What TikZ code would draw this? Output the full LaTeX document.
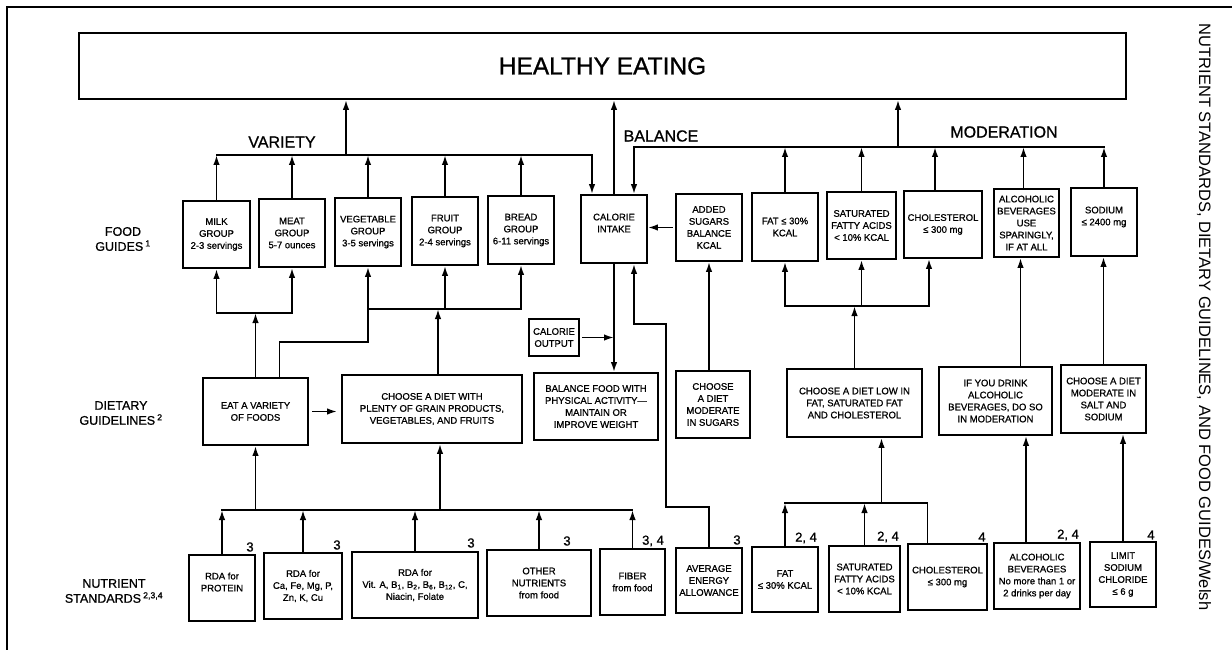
\documentclass[tikz,border=0pt]{standalone}
\usepackage{fontspec}
\setmainfont{Liberation Sans}
\newfontfamily\heavyfont{Liberation Sans}[FakeBold=0.9,Ligatures=TeX]
\usetikzlibrary{arrows.meta}

\begin{document}
\begin{tikzpicture}[x=1pt,y=-1pt,
  guidebox/.style={draw,line width=1.8pt,align=center,inner sep=1pt,
                   font=\fontsize{9.5}{12}\heavyfont},
  titlebox/.style={draw,line width=1.8pt,font=\fontsize{24.5}{29}\heavyfont},
  rowlabel/.style={align=center,font=\fontsize{12.5}{15}\heavyfont},
  theme/.style={font=\fontsize{16}{19}\heavyfont},
  fnum/.style={font=\fontsize{13}{15}\heavyfont,inner sep=0pt},
  arr/.style={-{Latex[length=10pt,width=6.5pt]},line width=1.8pt,line cap=rect},
  link/.style={line width=1.8pt,line cap=rect},
]
\useasboundingbox (0,0) rectangle (1232,650);

% Frame
\draw[line width=2.6pt] (7,650) -- (7,7) -- (1232,7);

% Title
\node[titlebox,minimum width=1047,minimum height=66] (health) at (602.5,66) {HEALTHY EATING};

% Themes
\node[theme] (variety) at (282,142) {VARIETY};
\node[theme] (balance) at (661,136) {BALANCE};
\node[theme] (moderation) at (1004,132) {MODERATION};

% Row labels
\node[rowlabel] (lblfood) at (123,239) {FOOD\\GUIDES\,\textsuperscript{1}};
\node[rowlabel] (lbldiet) at (121,413) {DIETARY\\GUIDELINES\,\textsuperscript{2}};
\node[rowlabel] (lblnutr) at (114,591) {NUTRIENT\\STANDARDS\,\textsuperscript{2,3,4}};

% Food guides
\node[guidebox,minimum width=67,minimum height=67] (milk) at (216.5,234.5) {MILK\\GROUP\\2-3 servings};
\node[guidebox,minimum width=66,minimum height=68] (meat) at (292,233) {MEAT\\GROUP\\5-7 ounces};
\node[guidebox,minimum width=66,minimum height=68] (veg) at (368,232) {VEGETABLE\\GROUP\\3-5 servings};
\node[guidebox,minimum width=66,minimum height=68] (fruit) at (445,231) {FRUIT\\GROUP\\2-4 servings};
\node[guidebox,minimum width=66,minimum height=68] (bread) at (521,230) {BREAD\\GROUP\\6-11 servings};
\node[guidebox,minimum width=66,minimum height=68] (cal) at (614,229) {CALORIE\\INTAKE\\\mbox{}};
\node[guidebox,minimum width=66,minimum height=67] (sugar) at (709,227.5) {ADDED\\SUGARS\\BALANCE\\KCAL};
\node[guidebox,minimum width=66,minimum height=68] (fatg) at (785,227) {FAT ≤ 30\%\\KCAL};
\node[guidebox,minimum width=69,minimum height=67] (satg) at (861.5,225.5) {SATURATED\\FATTY ACIDS\\< 10\% KCAL};
\node[guidebox,minimum width=78,minimum height=67] (cholg) at (943,224.5) {CHOLESTEROL\\≤ 300 mg};
\node[guidebox,minimum width=65,minimum height=68] (alcg) at (1026.5,223) {ALCOHOLIC\\BEVERAGES\\USE\\SPARINGLY,\\IF AT ALL};
\node[guidebox,minimum width=66,minimum height=68] (sodg) at (1104,222) {SODIUM\\≤ 2400 mg\\\mbox{}};

% Dietary guidelines
\node[guidebox,minimum width=50,minimum height=37] (calout) at (554,337.5) {CALORIE\\OUTPUT};
\node[guidebox,minimum width=105,minimum height=67] (eat) at (255.5,411.5) {EAT A VARIETY\\OF FOODS};
\node[guidebox,minimum width=180,minimum height=68] (plenty) at (432,409) {CHOOSE A DIET WITH\\PLENTY OF GRAIN PRODUCTS,\\VEGETABLES, AND FRUITS};
\node[guidebox,minimum width=124,minimum height=67] (balfood) at (596,406.5) {BALANCE FOOD WITH\\PHYSICAL ACTIVITY—\\MAINTAIN OR\\IMPROVE WEIGHT};
\node[guidebox,minimum width=74,minimum height=67] (dsugar) at (713,404.5) {CHOOSE\\A DIET\\MODERATE\\IN SUGARS};
\node[guidebox,minimum width=135,minimum height=68] (dfat) at (854.5,403) {CHOOSE A DIET LOW IN\\FAT, SATURATED FAT\\AND CHOLESTEROL};
\node[guidebox,minimum width=113,minimum height=68] (dalc) at (995.5,401) {IF YOU DRINK\\ALCOHOLIC\\BEVERAGES, DO SO\\IN MODERATION};
\node[guidebox,minimum width=85,minimum height=68] (dsalt) at (1103.5,399) {CHOOSE A DIET\\MODERATE IN\\SALT AND\\SODIUM};

% Nutrient standards
\node[guidebox,minimum width=66,minimum height=66] (rprot) at (222,588) {RDA for\\PROTEIN\\\mbox{}};
\node[guidebox,minimum width=78,minimum height=66] (rmin) at (303,586) {RDA for\\Ca, Fe, Mg, P,\\Zn, K, Cu};
\node[guidebox,minimum width=126,minimum height=66] (rvit) at (415,585) {RDA for\\Vit. A, B\textsubscript{1}, B\textsubscript{2}, B\textsubscript{6}, B\textsubscript{12}, C,\\Niacin, Folate};
\node[guidebox,minimum width=104,minimum height=66] (rother) at (539,583) {OTHER\\NUTRIENTS\\from food};
\node[guidebox,minimum width=65,minimum height=66] (rfiber) at (632.5,582) {FIBER\\from food};
\node[guidebox,minimum width=66,minimum height=65] (raea) at (709,580.5) {AVERAGE\\ENERGY\\ALLOWANCE};
\node[guidebox,minimum width=66,minimum height=65] (rfat) at (785,579.5) {FAT\\≤ 30\% KCAL};
\node[guidebox,minimum width=71,minimum height=66] (rsat) at (864.5,579) {SATURATED\\FATTY ACIDS\\< 10\% KCAL};
\node[guidebox,minimum width=79,minimum height=66] (rchol) at (947.5,577) {CHOLESTEROL\\≤ 300 mg};
\node[guidebox,minimum width=86,minimum height=66] (ralc) at (1037,576) {ALCOHOLIC\\BEVERAGES\\No more than 1 or\\2 drinks per day};
\node[guidebox,minimum width=66,minimum height=65] (rsod) at (1123,574.5) {LIMIT\\SODIUM\\CHLORIDE\\≤ 6 g};

% Footnote numbers
\node[fnum] (fn1) at (250,547) {3};
\node[fnum] (fn2) at (337,545) {3};
\node[fnum] (fn3) at (471,543) {3};
\node[fnum] (fn4) at (567,541) {3};
\node[fnum] (fn5) at (653,541) {3, 4};
\node[fnum] (fn6) at (737,540) {3};
\node[fnum] (fn7) at (806,538) {2, 4};
\node[fnum] (fn8) at (888,537) {2, 4};
\node[fnum] (fn9) at (982,537) {4};
\node[fnum] (fn10) at (1068,535) {2, 4};
\node[fnum] (fn11) at (1151,535) {4};

% Source
\node[rotate=-90,font=\fontsize{16.5}{20}\selectfont] (credit) at (1204,317)
  {NUTRIENT STANDARDS, DIETARY GUIDELINES, AND FOOD GUIDES/Welsh};

% Variety
\coordinate (varbar) at (346,155);
\foreach \g in {milk,meat,veg,fruit,bread}
  \draw[arr] (\g.north) -- (\g.north |- varbar);
\draw[arr] (milk.north |- varbar) -| ([xshift=-22pt]cal.north);
\draw[arr] (varbar) -- (varbar |- health.south);

% Balance
\draw[arr] (cal.north) -- (cal.north |- health.south);

% Moderation
\coordinate (modbar) at (898,147);
\draw[arr] (modbar) -- (modbar |- health.south);
\draw[arr] (sodg.north |- modbar) -| ([xshift=20pt]cal.north);
\draw[arr] (fatg.north) -- (fatg.north |- modbar);
\draw[arr] (satg.north) -- (satg.north |- modbar);
\draw[arr] ([xshift=-8pt]cholg.north) -- ([xshift=-8pt]cholg.north |- modbar);
\draw[arr] ([xshift=-3pt]alcg.north) -- ([xshift=-3pt]alcg.north |- modbar);
\draw[arr] (sodg.north) -- (sodg.north |- modbar);

% Sugars
\draw[arr] (dsugar.north -| sugar.south) -- (sugar.south);
\draw[arr,shorten <=3pt] (sugar.west) -- (sugar.west -| cal.east);

% Calorie balance
\draw[arr] (cal.south) -- (cal.south |- balfood.north);
\draw[arr,shorten <=3pt] (calout.east) -- (calout.east -| cal.south);
\coordinate (aea1) at (666,507);
\coordinate (aea2) at (634,324);
\draw[arr] (raea.north) |- (aea1) |- (aea2) -- ([xshift=20pt]cal.south);

% Fat guideline
\coordinate (fatbar) at (853,306);
\draw[arr] (dfat.north) -- (dfat.north |- fatbar);
\draw[link] (fatg.south |- fatbar) -- ([xshift=-14pt]cholg.south |- fatbar);
\draw[arr] (fatg.south |- fatbar) -- (fatg.south);
\draw[arr] (satg.south |- fatbar) -- (satg.south);
\draw[arr] ([xshift=-14pt]cholg.south |- fatbar) -- ([xshift=-14pt]cholg.south);

% Alcohol and salt
\draw[arr] ([xshift=-6pt]alcg.south |- dalc.north) -- ([xshift=-6pt]alcg.south);
\draw[arr] (dsalt.north) -- (dsalt.north |- sodg.south);

% Eat a variety
\coordinate (grpbar1) at (254,313);
\coordinate (grpbar2) at (437,309);
\draw[arr] (eat.north) -- (eat.north |- grpbar1);
\draw[link] (milk.south |- grpbar1) -- (meat.south |- grpbar1);
\draw[arr] (milk.south |- grpbar1) -- (milk.south);
\draw[arr] (meat.south |- grpbar1) -- (meat.south);
\draw[link] ([xshift=24pt]eat.north) -- ++(0,-35) -| (veg.south |- grpbar2);
\draw[link] (veg.south |- grpbar2) -- (bread.south |- grpbar2);
\foreach \g in {veg,fruit,bread}
  \draw[arr] (\g.south |- grpbar2) -- (\g.south);
\draw[arr] ([xshift=6pt]plenty.north) -- ([xshift=6pt]plenty.north |- grpbar2);
\draw[arr,shorten <=4pt,shorten >=4pt] (eat.east) -- (eat.east -| plenty.west);

% Nutrient bar
\coordinate (nutbar) at (400,510);
\foreach \r in {rprot,rmin,rvit,rother,rfiber}
  \draw[arr] (\r.north) -- (\r.north |- nutbar);
\draw[link] (rprot.north |- nutbar) -- (rfiber.north |- nutbar);
\draw[arr] (eat.south |- nutbar) -- (eat.south);
\draw[arr] ([xshift=8pt]plenty.south |- nutbar) -- ([xshift=8pt]plenty.south);

% Fat standards
\coordinate (stdbar) at (850,503);
\draw[link] (rfat.north |- stdbar) -- ([xshift=-20pt]rchol.north |- stdbar) -- ([xshift=-20pt]rchol.north);
\draw[arr] (rfat.north) -- (rfat.north |- stdbar);
\draw[arr] (rsat.north) -- (rsat.north |- stdbar);
\draw[arr] ([xshift=27pt]dfat.south |- stdbar) -- ([xshift=27pt]dfat.south);
\draw[arr] ([xshift=-11pt]ralc.north) -- ([xshift=-11pt]ralc.north |- dalc.south);
\draw[arr] (rsod.north) -- (rsod.north |- dsalt.south);

\end{tikzpicture}
\end{document}
